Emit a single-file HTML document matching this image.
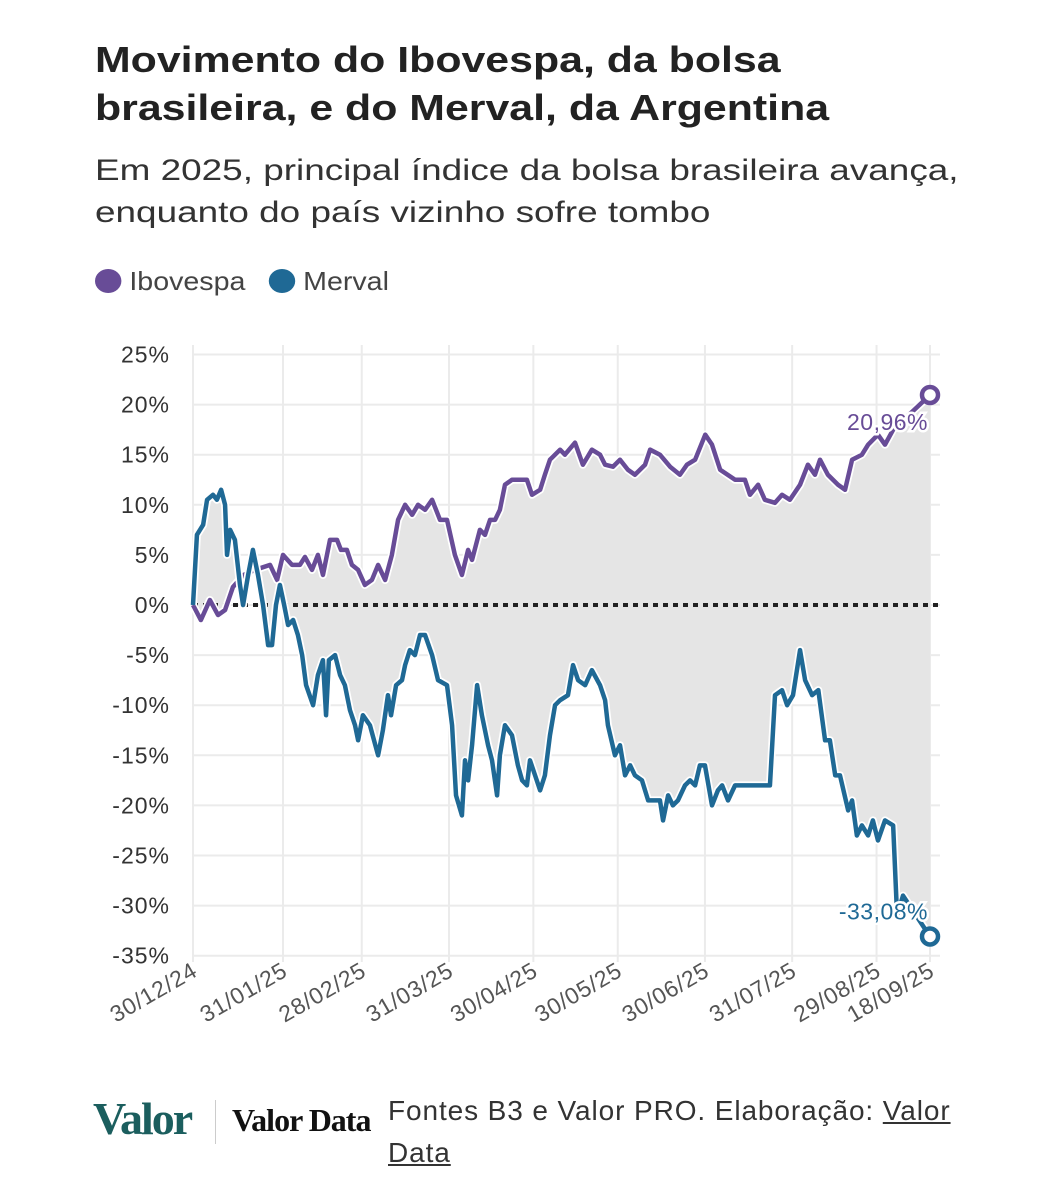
<!DOCTYPE html>
<html><head><meta charset="utf-8"><style>
body{margin:0;background:#fff;width:1061px;height:1200px;overflow:hidden;font-family:"Liberation Sans",sans-serif;color:#222}
.t{position:absolute;left:95px;white-space:nowrap;transform-origin:0 0}
</style></head><body>
<div class="t" style="top:36px;font-size:36px;font-weight:bold;line-height:48px;color:#222;transform:scaleX(1.19)">Movimento do Ibovespa, da bolsa<br>brasileira, e do Merval, da Argentina</div>
<div class="t" style="top:150px;font-size:30px;line-height:42px;color:#333;transform:scaleX(1.23)">Em 2025, principal índice da bolsa brasileira avança,<br>enquanto do país vizinho sofre tombo</div>
<div class="t" style="top:266px;font-size:26px;color:#444;transform:scaleX(1.1)">
<span><span style="display:inline-block;width:24px;height:24px;border-radius:50%;background:#684c97;vertical-align:-3px"></span> Ibovespa</span>
<span style="margin-left:14px"><span style="display:inline-block;width:24px;height:24px;border-radius:50%;background:#1f6995;vertical-align:-3px"></span> Merval</span>
</div>
<svg id="chart" width="1061" height="1080" style="position:absolute;left:0;top:0" font-family="Liberation Sans, sans-serif"></svg>
<div style="position:absolute;left:93px;top:1090px;width:870px">
<span style="position:absolute;left:0;top:2px;font-family:'Liberation Serif',serif;font-weight:bold;font-size:46px;color:#1b5e5e;letter-spacing:-2px">Valor</span>
<span style="position:absolute;left:122px;top:10px;width:1px;height:44px;background:#ccc"></span>
<span style="position:absolute;left:139px;top:12px;font-family:'Liberation Serif',serif;font-weight:bold;font-size:32px;color:#111;letter-spacing:-1px">Valor Data</span>
<span style="position:absolute;left:295px;top:0;font-size:28px;line-height:42px;color:#333;width:570px;letter-spacing:0.9px">Fontes B3 e Valor PRO. Elaboração: <u>Valor Data</u></span>
</div>
<script>
const ibovDays=[0,2.8,6,8.9,11.4,14.2,18,22,27.4,29.9,32,35.2,38,39.8,42.3,44.4,46.2,48.7,51.2,52.6,54.7,56.5,58.7,61.1,63.6,65.8,68.3,70.7,72.9,75.4,77.9,80,82.5,85,87.8,90.3,93.1,95.6,97.8,99.2,102,103.8,105.6,107.4,109.1,110.9,113.4,116.2,118.7,120.5,123.4,125.1,126.9,130.5,132.2,135.8,138.6,141.8,144.7,146.5,149.3,151.8,154.6,157.1,160.7,162.5,166,169.6,173.1,175.6,178.5,182.1,184.5,187.4,192.7,196.2,198,200.9,203.3,206.9,209.4,212.2,215.8,218.6,221.1,222.9,225.7,229.3,231.8,234.3,237.8,240,243.5,246,248.9,262];
const ibovVals=[0,-1.5,0.5,-1,-0.5,1.8,3,3.5,4,2.5,5,4,4,4.8,3.5,5,3,6.5,6.5,5.5,5.5,4,3.5,2,2.5,4,2.5,5,8.5,10,9,10,9.5,10.5,8.5,8.5,5,3,5.5,4.5,7.5,7,8.5,8.5,9.5,12,12.5,12.5,12.5,11,11.5,13,14.5,15.5,15,16.2,14,15.5,15,14,13.8,14.5,13.5,13,14,15.5,15,13.8,13,14,14.5,17,16,13.5,12.5,12.5,11,12,10.5,10.2,11,10.5,12,14,13,14.5,13,12,11.5,14.5,15,16,17,16,17.5,20.96];
const mervDays=[0,1.4,3.6,5,7.1,8.5,10,11.4,12.1,13.2,14.9,16.7,17.8,19.6,21.3,23.1,24.9,26.7,28.1,29.5,30.9,32.4,33.8,35.6,37.3,38.8,40.2,42.7,44.4,46.2,47.3,48.3,50.5,52.3,54,55.8,57.6,58.7,60.4,62.9,65.8,67.5,69.3,70.4,72.2,74.3,75.4,77.1,78.9,80.7,82.5,85,87.1,90.3,92.1,93.5,95.6,96.7,97.8,99.2,101,102.7,104.9,106.3,108.1,109.1,110.9,113.4,115.5,117,118.7,119.8,121.6,123.4,125.1,126.9,128.7,130.5,133.3,135.1,136.9,139.4,141.8,144.7,146.5,147.5,150,151.8,153.6,155.4,157.1,159.6,161.8,164.2,166,167.1,168.9,170.6,172.4,174.9,176.7,178.5,180.2,182,184.5,186.6,188.1,190.2,192.7,205.1,206.9,209.4,211.2,213.3,215.8,217.6,220.1,222.3,224.7,226.4,228.3,230,232.9,234.3,236,237.8,240,241.7,243.5,246,248.9,250.3,252.4,262];
const mervVals=[0,7,8,10.5,11,10.5,11.5,10,5,7.5,6.5,2,0,3,5.5,3,0,-4,-4,0,2,0,-2,-1.5,-3,-5,-8,-10,-7,-5.5,-11,-5.5,-5,-7,-8,-10.5,-12,-13.5,-11,-12,-15,-12.5,-9,-11,-8,-7.5,-6,-4.5,-5,-3,-3,-5,-7.5,-8,-12,-19,-21,-15.5,-17.5,-14,-8,-11,-14,-15.5,-19,-15,-12,-13,-16,-17.5,-18,-15.5,-17,-18.5,-17,-13,-10,-9.5,-9,-6,-7.5,-8,-6.5,-8,-9.5,-12,-15,-14,-17,-16,-17,-17.5,-19.5,-19.5,-19.5,-21.5,-19,-20,-19.5,-18,-17.5,-18,-16,-16,-20,-18.5,-18,-19.5,-18,-18,-9,-8.5,-10,-9,-4.5,-7.5,-9,-8.5,-13.5,-13.5,-17,-17,-20.5,-19.5,-23,-22,-23,-21.5,-23.5,-21.5,-22,-31,-29,-33.08];
const yTicks=[25,20,15,10,5,0,-5,-10,-15,-20,-25,-30,-35];
const xTickDays=[0,32,60,91,121,151,182,213,243,262];
const xTickLabels=["30/12/24","31/01/25","28/02/25","31/03/25","30/04/25","30/05/25","30/06/25","31/07/25","29/08/25","18/09/25"];
const X=d=>193+d*(737/262);
const Y=v=>605-v*10.02;
const svg=document.getElementById('chart');
const NS='http://www.w3.org/2000/svg';
function mk(tag,attrs){const e=document.createElementNS(NS,tag);for(const k in attrs)e.setAttribute(k,attrs[k]);svg.appendChild(e);return e;}
yTicks.forEach(v=>{
 const g=mk('line',{x1:193,x2:940,y1:Y(v),y2:Y(v),stroke:'#ebebeb','stroke-width':2});
 
 
 const t=mk('text',{x:170,y:Y(v)+8,'text-anchor':'end','font-size':23,fill:'#333','letter-spacing':'1'});
 t.textContent=v+'%';
 
 
});
xTickDays.forEach((d,i)=>{
 const g=mk('line',{x1:X(d),x2:X(d),y1:345,y2:962,stroke:'#ebebeb','stroke-width':2});
 
 
 const t=mk('text',{x:X(d)+6,y:975,'text-anchor':'end','font-size':23,fill:'#555','letter-spacing':'0.8',transform:`rotate(-30 ${X(d)+6} 975)`});
 t.textContent=xTickLabels[i];
 
 
});
let pts=ibovDays.map((d,i)=>X(d)+','+Y(ibovVals[i]));
let rev=mervDays.map((d,i)=>X(d)+','+Y(mervVals[i])).reverse();
const area=mk('polygon',{points:pts.concat(rev).join(' '),fill:'#e5e5e5'});


const zl=mk('line',{x1:193,x2:940,y1:Y(0),y2:Y(0),stroke:'#222','stroke-width':4,'stroke-dasharray':'5 5'});


function series(days,vals,color,name){
 const p=days.map((d,i)=>X(d)+','+Y(vals[i])).join(' ');
 mk('polyline',{points:p,fill:'none',stroke:'#fff','stroke-width':8,'stroke-linejoin':'round'});
 const l=mk('polyline',{points:p,fill:'none',stroke:color,'stroke-width':4.5,'stroke-linejoin':'round'});
 
 
 const last=days.length-1;
 const c=mk('circle',{cx:X(days[last]),cy:Y(vals[last]),r:8,fill:'#fff',stroke:color,'stroke-width':4.5});
 
 
 return [X(days[last]),Y(vals[last])];
}
const [ix,iy]=series(ibovDays,ibovVals,'#684c97','ibovespa');
const [mx,my]=series(mervDays,mervVals,'#1f6995','merval');
function lbl(x,y,txt,color,name){
 const t=mk('text',{x:x,y:y,'text-anchor':'end','font-size':23,fill:color,stroke:'#fff','stroke-width':5,'paint-order':'stroke','letter-spacing':'0.5'});
 t.textContent=txt;
 
 
}
lbl(ix-2,iy+35,ibovVals[ibovVals.length-1].toFixed(2).replace('.',',')+'%','#684c97','ibovespa-end-label');
lbl(mx-2,my-17,mervVals[mervVals.length-1].toFixed(2).replace('.',',')+'%','#1f6995','merval-end-label');
</script>
</body></html>
